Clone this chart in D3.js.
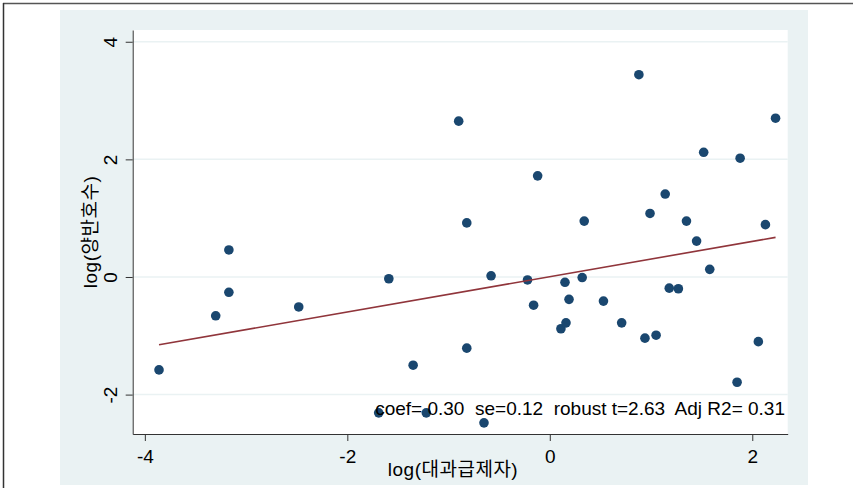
<!DOCTYPE html>
<html>
<head>
<meta charset="utf-8">
<script src="https://cdn.jsdelivr.net/npm/d3@7"></script>
<style>
  body { margin: 0; background: #fff; }
  text { font-family: "Liberation Sans", Arial, "Noto Sans CJK KR", sans-serif; fill: #000; }
</style>
</head>
<body>
<div id="chart"></div>
<script>
// log(대과급제자) values
const xVals = [-3.86, -3.30, -3.17, -3.17, -2.48, -1.59, -1.35, -1.69, -1.22, -0.90,
               -0.82, -0.82, -0.65, -0.58, -0.22, -0.16, -0.12, 0.11, 0.16, 0.15,
               0.19, 0.32, 0.34, 0.53, 0.71, 0.88, 0.94, 0.99, 1.05, 1.14,
               1.18, 1.27, 1.35, 1.45, 1.52, 1.58, 1.85, 1.88, 2.06, 2.13, 2.23];
// log(양반호수) values
const yVals = [-1.58, -0.66, 0.46, -0.26, -0.51, -0.03, -1.50, -2.31, -2.31, 2.65,
               0.92, -1.21, -2.48, 0.02, -0.05, -0.48, 1.72, -0.88, -0.78, -0.09,
               -0.38, -0.01, 0.95, -0.41, -0.78, 3.44, -1.04, 1.08, -0.99, 1.41,
               -0.19, -0.20, 0.95, 0.61, 2.12, 0.13, -1.79, 2.02, -1.10, 0.89, 2.70];

const xTicks = [-4, -2, 0, 2];
const yTicks = [-2, 0, 2, 4];

// fitted line
const fitIntercept = 0.005;
const fitSlope = 0.30;

const statsText = "coef= 0.30  se=0.12  robust t=2.63  Adj R2= 0.31";
const xTitle = "log(대과급제자)";
const yTitle = "log(양반호수)";

const W = 853, H = 488;
const plot = {left: 132.7, right: 787.7, top: 30, bottom: 434};

const svg = d3.select("#chart").append("svg")
    .attr("width", W)
    .attr("height", H);

// outer window frame (only top and left visible)
svg.append("line").attr("x1", 3).attr("x2", W).attr("y1", 3.5).attr("y2", 3.5)
    .attr("stroke", "#555").attr("stroke-width", 1.5);
svg.append("line").attr("x1", 3.5).attr("x2", 3.5).attr("y1", 3).attr("y2", H)
    .attr("stroke", "#333").attr("stroke-width", 1.5);

// graph region background
svg.append("rect")
    .attr("x", 60).attr("y", 10)
    .attr("width", 748).attr("height", 475)
    .attr("fill", "#eaf2f3");

// plot region
svg.append("rect")
    .attr("x", plot.left).attr("y", plot.top)
    .attr("width", plot.right - plot.left).attr("height", plot.bottom - plot.top)
    .attr("fill", "#fff");

const x = d3.scaleLinear().domain([-4.12, 2.35]).range([plot.left, plot.right]);
const y = d3.scaleLinear().domain([-2.67, 4.2]).range([plot.bottom, plot.top]);

// horizontal grid lines
svg.append("g")
  .selectAll("line")
  .data(yTicks)
  .join("line")
    .attr("x1", plot.left)
    .attr("x2", plot.right)
    .attr("y1", d => y(d))
    .attr("y2", d => y(d))
    .attr("stroke", "#eaf2f3")
    .attr("stroke-width", 1.5);

// x axis
const xAxis = svg.append("g")
    .attr("transform", "translate(0," + plot.bottom + ")")
    .call(d3.axisBottom(x).tickValues(xTicks).tickSize(7).tickSizeOuter(0));
xAxis.select(".domain").attr("stroke", "#333");
xAxis.selectAll(".tick line").attr("stroke", "#333");
xAxis.selectAll(".tick text")
    .attr("y", 29)
    .attr("dy", 0)
    .style("font-size", "19px")
    .text(d => d < 0 ? "-" + Math.abs(d) : d);

// y axis
const yAxis = svg.append("g")
    .attr("transform", "translate(" + plot.left + ",0)")
    .call(d3.axisLeft(y).tickValues(yTicks).tickSize(7).tickSizeOuter(0));
yAxis.select(".domain").attr("stroke", "#333");
yAxis.selectAll(".tick line").attr("stroke", "#333");
yAxis.selectAll(".tick text")
    .attr("transform", "rotate(-90)")
    .attr("x", 0)
    .attr("y", -16)
    .attr("dy", 0)
    .attr("text-anchor", "middle")
    .style("font-size", "19px")
    .text(d => d < 0 ? "-" + Math.abs(d) : d);

// scatter points
svg.append("g")
  .selectAll("circle")
  .data(d3.range(xVals.length))
  .join("circle")
    .attr("cx", i => x(xVals[i]))
    .attr("cy", i => y(yVals[i]))
    .attr("r", 4.8)
    .attr("fill", "#1a476f");

// fitted line over the data range
const [xMin, xMax] = d3.extent(xVals);
svg.append("path")
    .datum([xMin, xMax])
    .attr("d", d3.line().x(d => x(d)).y(d => y(fitIntercept + fitSlope * d)))
    .attr("fill", "none")
    .attr("stroke", "#90353b")
    .attr("stroke-width", 1.6);

// regression stats
svg.append("text")
    .attr("x", 785)
    .attr("y", 415)
    .attr("text-anchor", "end")
    .style("font-size", "19px")
    .style("white-space", "pre")
    .text(statsText);

// axis titles
svg.append("text")
    .attr("x", 453)
    .attr("y", 476)
    .attr("text-anchor", "middle")
    .style("font-size", "19px")
    .style("letter-spacing", "0.5px")
    .text(xTitle);

svg.append("text")
    .attr("transform", "translate(97,232) rotate(-90)")
    .attr("text-anchor", "middle")
    .style("font-size", "19px")
    .style("letter-spacing", "0.5px")
    .text(yTitle);
</script>
</body>
</html>
